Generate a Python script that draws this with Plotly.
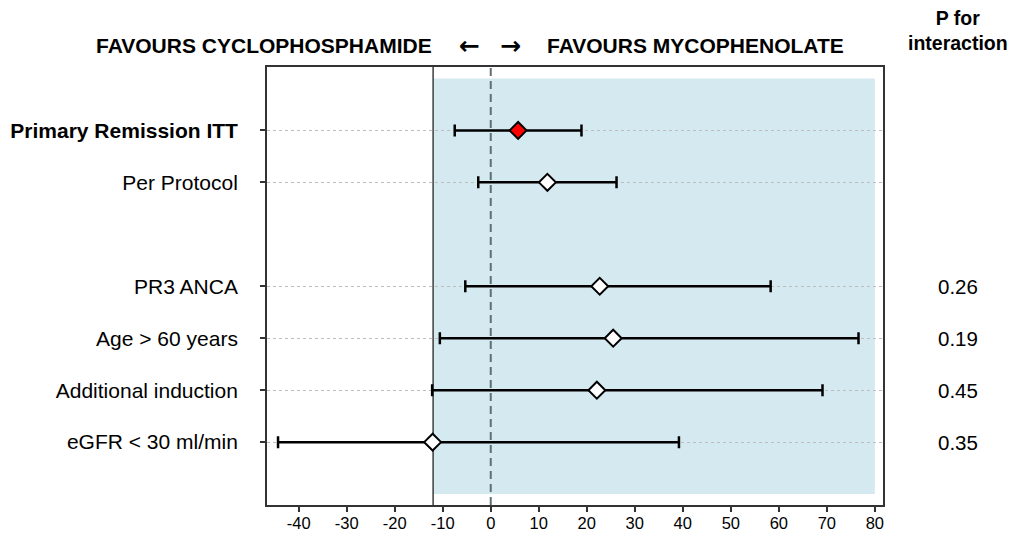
import plotly.graph_objects as go

# Forest plot: risk difference in remission (mycophenolate minus cyclophosphamide)
labels = ["<b>Primary Remission ITT</b>", "Per Protocol", "PR3 ANCA",
          "Age > 60 years", "Additional induction", "eGFR < 30 ml/min"]
rows = [7, 6, 4, 3, 2, 1]
estimate = [5.7, 11.8, 22.7, 25.5, 22.1, -12.1]
lower = [-7.5, -2.6, -5.3, -10.6, -12.2, -44.3]
upper = [18.9, 26.2, 58.3, 76.6, 69.1, 39.2]
marker_fill = ["#ff0000", "white", "white", "white", "white", "white"]
p_interaction = ["", "", "0.26", "0.19", "0.45", "0.35"]

x_ticks = [-40, -30, -20, -10, 0, 10, 20, 30, 40, 50, 60, 70, 80]
x_range = [-46.6, 81.7]
y_range = [-0.21, 8.22]
margin_value = -12        # non-inferiority margin
shade_x = [-12, 80]
shade_y = [0, 8]

FONT = "Liberation Sans, Arial, sans-serif"

fig = go.Figure()

# reference lines: non-inferiority margin (solid) and no difference (dashed)
fig.add_trace(go.Scatter(
    x=[margin_value, margin_value], y=y_range, mode="lines",
    line=dict(color="#4a4a4a", width=1.6),
    showlegend=False, hoverinfo="skip",
))
fig.add_trace(go.Scatter(
    x=[0, 0], y=y_range, mode="lines",
    line=dict(color="#5f6f75", width=2, dash="8px,5px"),
    showlegend=False, hoverinfo="skip",
))

fig.add_trace(go.Scatter(
    x=estimate, y=rows, mode="markers",
    marker=dict(symbol="diamond", size=13, color=marker_fill,
                line=dict(color="black", width=2)),
    error_x=dict(type="data", symmetric=False,
                 array=[u - e for u, e in zip(upper, estimate)],
                 arrayminus=[e - l for e, l in zip(estimate, lower)],
                 color="black", thickness=2.5, width=6),
    showlegend=False, hoverinfo="skip",
))

shapes = [
    dict(type="rect", xref="x", yref="y", x0=shade_x[0], x1=shade_x[1],
         y0=shade_y[0], y1=shade_y[1], fillcolor="#d5e9f1",
         line=dict(width=0), layer="below"),
]

annotations = []
for r, p in zip(rows, p_interaction):
    if p:
        annotations.append(dict(x=1.122, xref="paper", y=r, yref="y", text=p,
                                showarrow=False, xanchor="center",
                                font=dict(family=FONT, size=20.5, color="black")))
annotations += [
    dict(x=1.122, xref="paper", y=1.083, yref="paper",
         text="<b>P for<br>interaction</b>", showarrow=False,
         xanchor="center", yanchor="middle",
         font=dict(family=FONT, size=19.5, color="black")),
    dict(x=0.2714, xref="paper", y=1.05, yref="paper",
         text="<b>FAVOURS CYCLOPHOSPHAMIDE</b>", showarrow=False,
         xanchor="right", yanchor="middle",
         font=dict(family=FONT, size=21, color="black")),
    dict(x=0.3295, xref="paper", y=1.05, yref="paper", text="<b>←</b>",
         showarrow=False, xanchor="center", yanchor="middle",
         font=dict(family="DejaVu Sans", size=25, color="black")),
    dict(x=0.396, xref="paper", y=1.05, yref="paper", text="<b>→</b>",
         showarrow=False, xanchor="center", yanchor="middle",
         font=dict(family="DejaVu Sans", size=25, color="black")),
    dict(x=0.4513, xref="paper", y=1.05, yref="paper",
         text="<b>FAVOURS MYCOPHENOLATE</b>", showarrow=False,
         xanchor="left", yanchor="middle",
         font=dict(family=FONT, size=21, color="black")),
]

fig.update_layout(
    width=1019, height=535,
    margin=dict(l=267, r=136, t=67, b=30, pad=0),
    paper_bgcolor="white", plot_bgcolor="white",
    font=dict(family=FONT, color="black"),
    shapes=shapes, annotations=annotations,
    xaxis=dict(range=x_range, tickvals=x_ticks,
               ticktext=[str(v) for v in x_ticks], ticks="outside",
               ticklen=5, tickwidth=1.5, tickcolor="#333",
               showgrid=False, zeroline=False, showline=True,
               linecolor="#333", linewidth=1.8, mirror=True,
               ticklabelstandoff=-3, automargin=False,
               tickfont=dict(family=FONT, size=16.5, color="black")),
    yaxis=dict(range=y_range, tickvals=rows, ticktext=labels,
               ticks="outside", ticklen=5, tickwidth=1.5, tickcolor="#333",
               showgrid=True, gridcolor="#bdbdbd", griddash="dot",
               gridwidth=1.3, zeroline=False, showline=True,
               linecolor="#333", linewidth=1.8, mirror=True,
               ticklabelstandoff=18, automargin=False,
               tickfont=dict(family=FONT, size=21, color="black")),
)

fig.write_html("out.html")
